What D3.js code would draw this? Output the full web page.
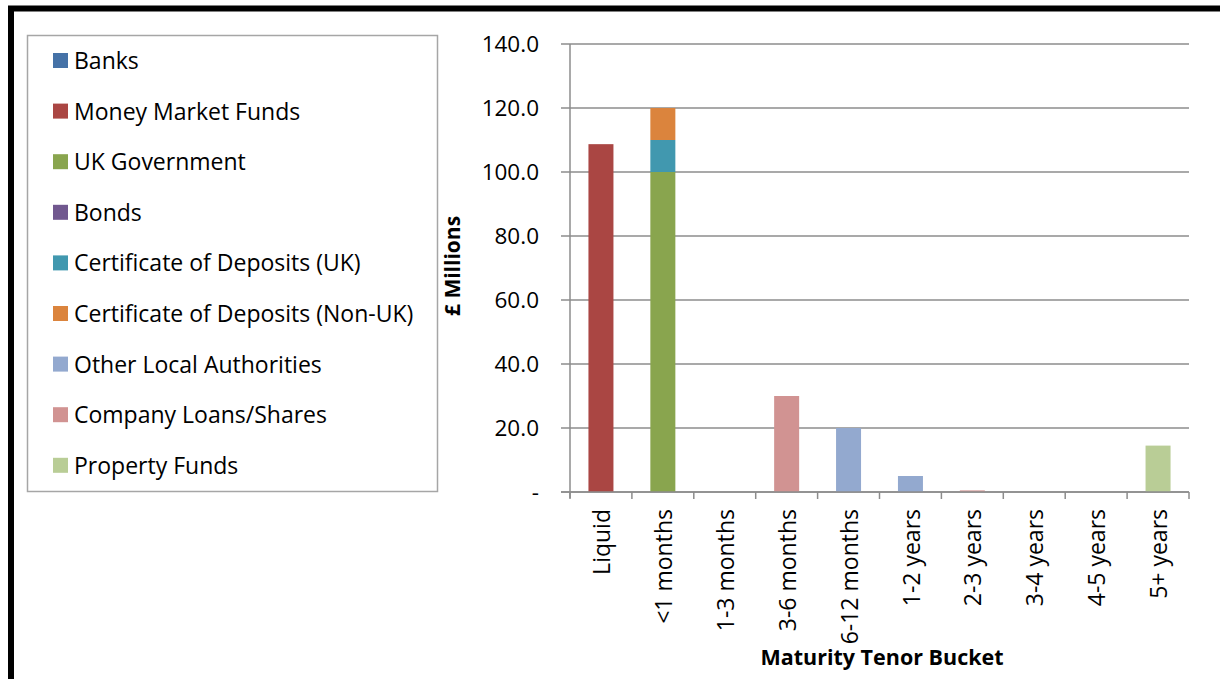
<!DOCTYPE html>
<html>
<head>
<meta charset="utf-8">
<script src="https://cdn.jsdelivr.net/npm/d3@7"></script>
<style>
  body { margin: 0; background: #fff; }
  svg { display: block; font-family: 'Open Sans', Lato, sans-serif; }
</style>
</head>
<body>
<div class="container"></div>
<script>
const categories = ['Liquid', '<1 months', '1-3 months', '3-6 months', '6-12 months',
  '1-2 years', '2-3 years', '3-4 years', '4-5 years', '5+ years']
const seriesNames = ['Banks', 'Money Market Funds', 'UK Government', 'Bonds',
  'Certificate of Deposits (UK)', 'Certificate of Deposits (Non-UK)',
  'Other Local Authorities', 'Company Loans/Shares', 'Property Funds']
const seriesColors = ['#4572A7', '#AA4643', '#89A54E', '#71588F', '#4198AF',
  '#DB843D', '#93A9CF', '#D19392', '#B9CD96']

const banks = [0, 0, 0, 0, 0, 0, 0, 0, 0, 0]
const moneyMarketFunds = [108.7, 0, 0, 0, 0, 0, 0, 0, 0, 0]
const ukGovernment = [0, 100, 0, 0, 0, 0, 0, 0, 0, 0]
const bonds = [0, 0, 0, 0, 0, 0, 0, 0, 0, 0]
const cdUK = [0, 10, 0, 0, 0, 0, 0, 0, 0, 0]
const cdNonUK = [0, 10, 0, 0, 0, 0, 0, 0, 0, 0]
const otherLocalAuthorities = [0, 0, 0, 0, 20, 5, 0, 0, 0, 0]
const companyLoans = [0, 0, 0, 30, 0, 0, 0.5, 0, 0, 0]
const propertyFunds = [0, 0, 0, 0, 0, 0, 0, 0, 0, 14.5]

const yTicks = [0, 20, 40, 60, 80, 100, 120, 140]

const seriesValues = [banks, moneyMarketFunds, ukGovernment, bonds, cdUK, cdNonUK,
  otherLocalAuthorities, companyLoans, propertyFunds]

const rows = categories.map((c, i) => {
  const row = { category: c }
  seriesNames.forEach((s, j) => { row[s] = seriesValues[j][i] })
  return row
})

const W = 1220, H = 679
const svg = d3.select('.container').append('svg').attr('width', W).attr('height', H)

// outer frame (thick black, top and left visible)
svg.append('path')
  .attr('d', `M11,${H + 10} L11,8.5 L${W + 10},8.5`)
  .attr('fill', 'none').attr('stroke', '#000').attr('stroke-width', 6)

// legend box
svg.append('rect')
  .attr('x', 27.5).attr('y', 35.5).attr('width', 410).attr('height', 456)
  .attr('fill', '#fff').attr('stroke', '#a6a6a6').attr('stroke-width', 1.5)

const legend = svg.append('g')
  .selectAll('g')
  .data(seriesNames)
  .join('g')
  .attr('transform', (d, i) => `translate(53, ${61 + i * 50.6})`)
legend.append('rect')
  .attr('x', 0).attr('y', -8).attr('width', 15).attr('height', 15)
  .attr('fill', (d, i) => seriesColors[i])
legend.append('text')
  .attr('x', 21).attr('y', 0).attr('dy', '0.35em')
  .attr('font-size', 23).attr('fill', '#000')
  .text((d) => d)

// plot
const plot = { left: 570, right: 1189, top: 44, bottom: 492 }

const x = d3.scaleBand().domain(categories).range([plot.left, plot.right])
const y = d3.scaleLinear().domain([0, 140]).range([plot.bottom, plot.top])

// gridlines
svg.append('g')
  .selectAll('line')
  .data(yTicks)
  .join('line')
  .attr('x1', plot.left - 9).attr('x2', plot.right)
  .attr('y1', (d) => y(d)).attr('y2', (d) => y(d))
  .attr('stroke', '#8c8c8c').attr('stroke-width', 1.5)

// y axis labels
svg.append('g')
  .selectAll('text')
  .data(yTicks)
  .join('text')
  .attr('x', 539).attr('y', (d) => y(d)).attr('dy', '0.35em')
  .attr('text-anchor', 'end').attr('font-size', 22.5).attr('fill', '#000')
  .text((d) => (d === 0 ? '-' : d3.format('.1f')(d)))

// stacked bars
const stack = d3.stack().keys(seriesNames)
const stacked = stack(rows)
const barW = 25

svg.append('g')
  .selectAll('g')
  .data(stacked)
  .join('g')
  .attr('fill', (d, i) => seriesColors[i])
  .selectAll('rect')
  .data((d) => d.filter((p) => p[1] - p[0] > 0))
  .join('rect')
  .attr('x', (d) => x(d.data.category) + x.bandwidth() / 2 - barW / 2)
  .attr('width', barW)
  .attr('y', (d) => y(d[1]))
  .attr('height', (d) => y(d[0]) - y(d[1]))

// y axis line
svg.append('line')
  .attr('x1', plot.left).attr('x2', plot.left)
  .attr('y1', plot.top).attr('y2', plot.bottom + 6)
  .attr('stroke', '#8c8c8c').attr('stroke-width', 1.5)

// x baseline and ticks
svg.append('line')
  .attr('x1', plot.left - 9).attr('x2', plot.right)
  .attr('y1', plot.bottom).attr('y2', plot.bottom)
  .attr('stroke', '#8c8c8c').attr('stroke-width', 1.5)

svg.append('g')
  .selectAll('line')
  .data(d3.range(categories.length + 1))
  .join('line')
  .attr('x1', (i) => plot.left + i * x.step()).attr('x2', (i) => plot.left + i * x.step())
  .attr('y1', plot.bottom).attr('y2', plot.bottom + 7)
  .attr('stroke', '#8c8c8c').attr('stroke-width', 1.5)

// x labels (rotated)
svg.append('g')
  .selectAll('text')
  .data(categories)
  .join('text')
  .attr('transform', (d) => `translate(${x(d) + x.bandwidth() / 2 + 1}, 509) rotate(-90)`)
  .attr('text-anchor', 'end').attr('dy', '0.35em')
  .attr('font-size', 23).attr('fill', '#000')
  .text((d) => d)

// axis titles
svg.append('text')
  .attr('transform', 'translate(453, 266) rotate(-90)')
  .attr('text-anchor', 'middle').attr('dy', '0.35em')
  .attr('font-size', 21).attr('font-weight', 'bold')
  .text('£ Millions')

svg.append('text')
  .attr('x', 882).attr('y', 657).attr('dy', '0.35em')
  .attr('text-anchor', 'middle')
  .attr('font-size', 21.5).attr('font-weight', 'bold')
  .text('Maturity Tenor Bucket')
</script>
</body>
</html>
